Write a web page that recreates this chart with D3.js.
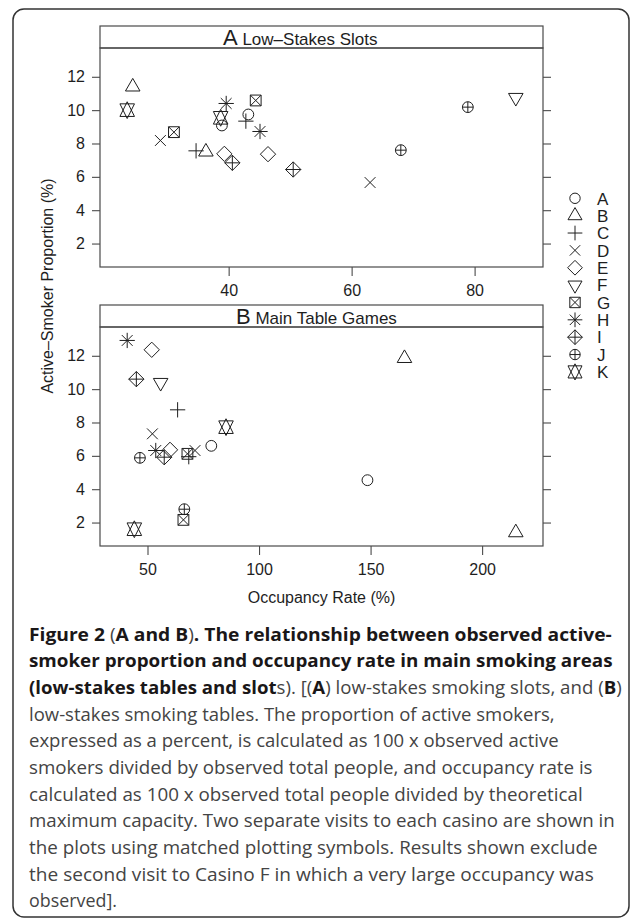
<!DOCTYPE html>
<html>
<head>
<meta charset="utf-8">
<script src="https://cdn.jsdelivr.net/npm/d3@7"></script>
<style>
body { margin: 0; background: #fff; }
svg { display: block; }
.axis text { font-family: "Liberation Sans", Arial, sans-serif; font-size: 16px; fill: #1e1e1e; }
.axis line { stroke: #4a4a4a; stroke-width: 1.1; }
.axis path { display: none; }
</style>
</head>
<body>
<svg id="chart" width="632" height="920"></svg>
<script>
var casinos = ["A", "B", "C", "D", "E", "F", "G", "H", "I", "J", "K"]

// panel A, low-stakes slots (one entry per visit)
var slotsCasino    = ["A", "A", "B", "B", "C", "C", "D", "D", "E", "E", "F", "G", "G", "H", "H", "I", "I", "J", "J", "K", "K"]
var slotsOccupancy = [38.9, 43.2, 24.4, 36.3, 34.7, 42.8, 28.9, 63.0, 39.3, 46.4, 86.7, 31.1, 44.4, 39.6, 45.1, 40.6, 50.5, 68.0, 78.9, 23.5, 38.7]
var slotsSmokers   = [9.08, 9.74, 11.4, 7.5, 7.56, 9.34, 8.18, 5.66, 7.38, 7.36, 10.75, 8.68, 10.58, 10.4, 8.72, 6.84, 6.44, 7.6, 10.18, 10.0, 9.54]

// panel B, main table games
var tablesCasino    = ["A", "A", "B", "B", "C", "C", "D", "D", "E", "E", "F", "G", "G", "H", "H", "I", "I", "J", "J", "K", "K"]
var tablesOccupancy = [78.6, 148.6, 165.2, 215.1, 63.5, 68.5, 52.2, 71.3, 51.9, 60.1, 55.9, 67.9, 66.1, 40.9, 53.7, 45.0, 57.5, 46.6, 66.5, 85.2, 44.1]
var tablesSmokers   = [6.6, 4.54, 11.85, 1.4, 8.76, 5.95, 7.32, 6.32, 12.36, 6.36, 10.39, 6.12, 2.16, 12.92, 6.32, 10.6, 5.92, 5.88, 2.8, 7.72, 1.6]

var slotsTicks = [40, 60, 80]
var tablesTicks = [50, 100, 150, 200]
var smokerTicks = [2, 4, 6, 8, 10, 12]

var captionLines = [
    [["b", "Figure 2 "], ["r", "("], ["b", "A and B"], ["r", ")"], ["b", ". The relationship between observed active-"]],
    [["b", "smoker proportion and occupancy rate in main smoking areas"]],
    [["b", "(low-stakes tables and slot"], ["r", "s). [("], ["b", "A"], ["r", ") low-stakes smoking slots, and ("], ["b", "B"], ["r", ")"]],
    [["r", "low-stakes smoking tables. The proportion of active smokers,"]],
    [["r", "expressed as a percent, is calculated as 100 x observed active"]],
    [["r", "smokers divided by observed total people, and occupancy rate is"]],
    [["r", "calculated as 100 x observed total people divided by theoretical"]],
    [["r", "maximum capacity. Two separate visits to each casino are shown in"]],
    [["r", "the plots using matched plotting symbols. Results shown exclude"]],
    [["r", "the second visit to Casino F in which a very large occupancy was"]],
    [["r", "observed]."]]
]
var captionWidths = [583, 584, 593, 526, 530, 564, 554, 586, 569, 565, 88]

var svg = d3.select("#chart")
var ink = "#1e1e1e"
var frame = "#4a4a4a"
var labelFont = "'Liberation Sans', Arial, sans-serif"
var left = 100, right = 543, stripH = 22, plotH = 219

// lattice pads each range by 7%
function padded(values) {
    var e = d3.extent(values), d = (e[1] - e[0]) * 0.07
    return [e[0] - d, e[1] + d]
}

// R plotting symbols pch 1..11, R = circle radius
var TRC0 = Math.sqrt(4 * Math.PI / (3 * Math.sqrt(3))), TRC1 = TRC0 * Math.sqrt(3) / 2, TRC2 = TRC0 / 2
function symbolPath(letter, R) {
    var p = d3.path(), s = Math.SQRT2 * R
    function circ(r) { p.moveTo(r, 0); p.arc(0, 0, r, 0, 2 * Math.PI) }
    function seg(x0, y0, x1, y1) { p.moveTo(x0, y0); p.lineTo(x1, y1) }
    function poly(pts) { p.moveTo(pts[0][0], pts[0][1]); pts.slice(1).forEach(function(q) { p.lineTo(q[0], q[1]) }); p.closePath() }
    function plus(h) { seg(-h, 0, h, 0); seg(0, -h, 0, h) }
    function cross(h) { seg(-h, -h, h, h); seg(-h, h, h, -h) }
    function diamond(h) { poly([[0, -h], [h, 0], [0, h], [-h, 0]]) }
    function tri(dir) { poly([[0, -dir * TRC0 * R], [TRC1 * R, dir * TRC2 * R], [-TRC1 * R, dir * TRC2 * R]]) }
    switch (letter) {
        case "A": circ(R); break
        case "B": tri(1); break
        case "C": plus(s); break
        case "D": cross(R); break
        case "E": diamond(s); break
        case "F": tri(-1); break
        case "G": poly([[-R, -R], [R, -R], [R, R], [-R, R]]); cross(R); break
        case "H": plus(s); cross(R); break
        case "I": diamond(s); plus(s); break
        case "J": circ(R); plus(R); break
        case "K":
            var r = TRC0 * R, yc = 0.5 * (TRC2 * R + r), xc = TRC1 * R
            poly([[0, r], [xc, -yc], [-xc, -yc]])
            poly([[0, -r], [xc, yc], [-xc, yc]])
            break
    }
    return p.toString()
}

var yDomain = padded(slotsSmokers.concat(tablesSmokers))

function drawPanel(top, letter, title, titleX, occupancy, smokers, casino, ticks) {
    var plotTop = top + stripH, plotBottom = plotTop + plotH
    var x = d3.scaleLinear().domain(padded(occupancy)).range([left, right])
    var y = d3.scaleLinear().domain(yDomain).range([plotBottom, plotTop])
    var g = svg.append("g")

    g.append("g").attr("class", "axis")
        .attr("transform", "translate(" + left + ",0)")
        .call(d3.axisLeft(y).tickValues(smokerTicks).tickSize(8).tickPadding(7))
    g.append("g").attr("class", "axis")
        .attr("transform", "translate(" + right + ",0)")
        .call(d3.axisRight(y).tickValues(smokerTicks).tickSize(8).tickFormat(""))
    g.append("g").attr("class", "axis")
        .attr("transform", "translate(0," + plotBottom + ")")
        .call(d3.axisBottom(x).tickValues(ticks).tickSize(9).tickPadding(9))

    // strip
    g.append("rect")
        .attr("x", left).attr("y", top).attr("width", right - left).attr("height", stripH)
        .attr("fill", "#fff").attr("stroke", frame).attr("stroke-width", 1.2)
    var st = g.append("text")
        .attr("x", titleX).attr("y", top + 19)
        .attr("font-family", labelFont)
        .attr("fill", ink)
    st.append("tspan").attr("font-size", 22).text(letter)
    st.append("tspan").attr("font-size", 17).text(" " + title)

    g.append("rect")
        .attr("x", left).attr("y", plotTop).attr("width", right - left).attr("height", plotH)
        .attr("fill", "none").attr("stroke", frame).attr("stroke-width", 1.2)

    g.append("g").selectAll("path")
        .data(d3.range(occupancy.length))
        .enter().append("path")
        .attr("transform", function(i) { return "translate(" + x(occupancy[i]) + "," + y(smokers[i]) + ")" })
        .attr("d", function(i) { return symbolPath(casino[i], 5.4) })
        .attr("fill", "none").attr("stroke", ink).attr("stroke-width", 1)
}

// outer figure frame
svg.append("rect")
    .attr("x", 13).attr("y", 9).attr("width", 616).attr("height", 908).attr("rx", 11)
    .attr("fill", "none").attr("stroke", "#333").attr("stroke-width", 1.5)

drawPanel(26, "A", "Low\u2013Stakes Slots", 223, slotsOccupancy, slotsSmokers, slotsCasino, slotsTicks)
drawPanel(305, "B", "Main Table Games", 236, tablesOccupancy, tablesSmokers, tablesCasino, tablesTicks)

svg.append("text")
    .attr("transform", "translate(53,286) rotate(-90)")
    .attr("text-anchor", "middle")
    .attr("font-family", labelFont).attr("font-size", 16).attr("fill", ink)
    .text("Active\u2013Smoker Proportion (%)")

svg.append("text")
    .attr("x", (left + right) / 2).attr("y", 603)
    .attr("text-anchor", "middle")
    .attr("font-family", labelFont).attr("font-size", 16).attr("fill", ink)
    .text("Occupancy Rate (%)")

// key
var key = svg.append("g").selectAll("g")
    .data(casinos)
    .enter().append("g")
    .attr("transform", function(d, i) { return "translate(575," + (198.3 + i * 17.36) + ")" })
key.append("path")
    .attr("d", function(d) { return symbolPath(d, 5.2) })
    .attr("fill", "none").attr("stroke", ink).attr("stroke-width", 1)
key.append("text")
    .attr("x", 22).attr("y", 6.3)
    .attr("font-family", labelFont).attr("font-size", 17).attr("fill", ink)
    .text(function(d) { return d })

// caption, each line squeezed to the width it has in the figure
var cap = svg.append("g")
captionLines.forEach(function(line, i) {
    var t = cap.append("text")
        .attr("font-family", "'Open Sans', sans-serif").attr("font-size", 17.5)
    line.forEach(function(part) {
        t.append("tspan")
            .attr("font-weight", part[0] == "b" ? 700 : 400)
            .attr("fill", part[0] == "b" ? "#1a1718" : "#444")
            .text(part[1])
    })
    var w = t.node().getComputedTextLength()
    t.attr("transform", "translate(29," + (640.7 + i * 26.67) + ") scale(" + (captionWidths[i] / w) + ",1)")
})
</script>
</body>
</html>
